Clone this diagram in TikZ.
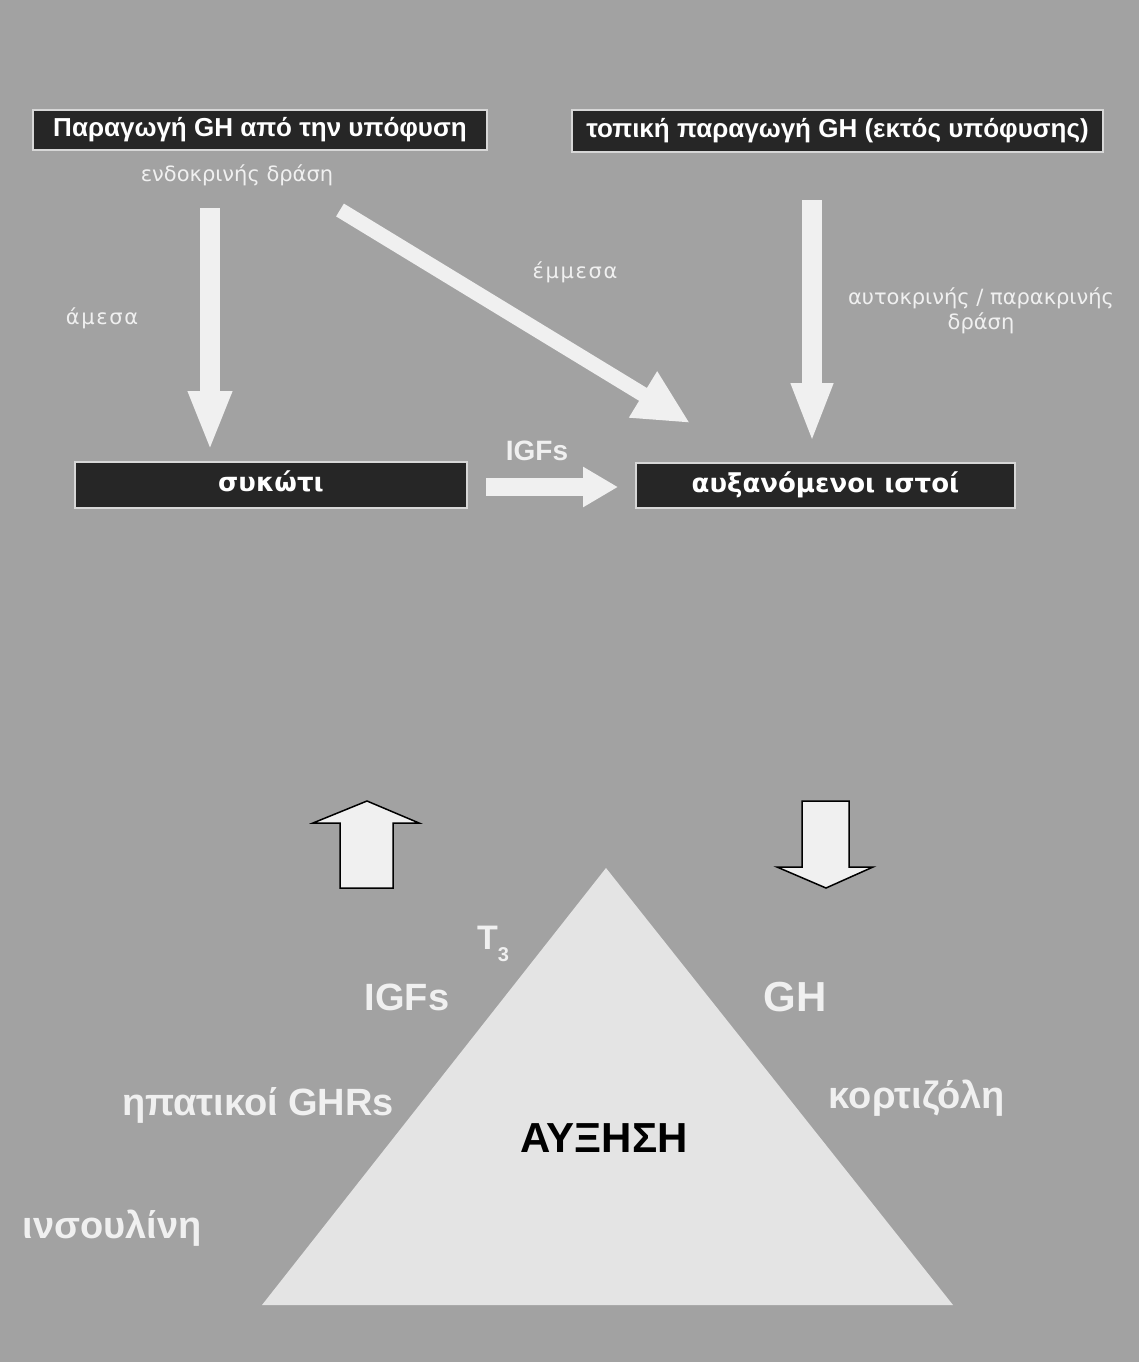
\documentclass[tikz,border=0pt]{standalone}
\usepackage{fontspec}
\usepackage{graphicx}
\setmainfont{Liberation Sans}
\newfontfamily\wideface{DejaVu Sans}
\usetikzlibrary{arrows.meta}
\definecolor{bg}{RGB}{162,162,162}
\definecolor{boxfill}{RGB}{38,38,38}
\definecolor{boxline}{RGB}{215,215,215}
\definecolor{pale}{RGB}{240,240,240}
\definecolor{tri}{RGB}{228,228,228}
\begin{document}
\begin{tikzpicture}[x=1pt,y=-1pt,
  darkbox/.style={fill=boxfill, draw=boxline, line width=1.2pt, text=white,
    font=\bfseries\fontsize{26}{30}\selectfont, inner sep=0pt,
    text height=19pt, text depth=6pt},
  widebox/.style={darkbox, font=\wideface\bfseries\fontsize{26}{30}\selectfont},
  smalllabel/.style={text=pale, font=\wideface\fontsize{21}{27}\selectfont, inner sep=1pt, align=center},
  spacedlabel/.style={smalllabel, font=\wideface\fontsize{21}{27}\selectfont\addfontfeature{LetterSpace=8}},
  biglabel/.style={text=pale, font=\bfseries\fontsize{38}{42}\selectfont, inner sep=1pt},
  flowarrow/.style={draw=pale, line width=#1},
  blockarrow/.style={fill=pale, draw=black, line width=1.5pt, line join=miter}
]
\useasboundingbox (0,0) rectangle (1139,1362);
\fill[bg] (0,0) rectangle (1139,1362);

% boxes
\node[darkbox, minimum width=454pt, minimum height=40pt] (pit) at (260,130) {Παραγωγή GH από την υπόφυση};
\node[darkbox, minimum width=531pt, minimum height=42pt] (local) at (837.5,131) {τοπική παραγωγή GH (εκτός υπόφυσης)};
\node[widebox, minimum width=392pt, minimum height=46pt] (liver) at (271,485) {συκώτι};
\node[widebox, minimum width=379pt, minimum height=45pt] (tissue) at (825.5,485.5) {αυξανόμενοι ιστοί};

% small labels
\node[smalllabel] (endo) at (237,175) {ενδοκρινής δράση};
\node[spacedlabel] (amesa) at (102,318) {άμεσα};
\node[spacedlabel] (emmesa) at (575,272) {έμμεσα};
\node[smalllabel] (auto) at (981,311) {αυτοκρινής / παρακρινής\\[-2pt]δράση};
\node[text=pale, font=\bfseries\fontsize{28}{30}\selectfont, inner sep=1pt] (igftop) at (537,451) {IGFs};

% connector end points
\coordinate (a1s) at (210,208);
\coordinate (a1e) at (210,451);
\coordinate (a2s) at (340,210);
\coordinate (a2e) at (690,423);
\coordinate (a3s) at (812,200);
\coordinate (a3e) at (812,443);
\coordinate (a4s) at (486,487);
\coordinate (a4e) at (618,487);

\draw[flowarrow=20pt, -{Triangle[width=40pt,length=60pt]}] (a1s) -- (a1e);
\draw[flowarrow=15pt, -{Triangle[width=50pt,length=55pt]}] (a2s) -- (a2e);
\draw[flowarrow=20pt, -{Triangle[width=38pt,length=60pt]}] (a3s) -- (a3e);
\draw[flowarrow=18pt, -{Triangle[width=38pt,length=35pt]}] (a4s) -- (a4e);

% triangle
\fill[tri] (606,868) -- (953,1305) -- (262,1305) -- cycle;
\node[text=black, font=\bfseries\fontsize{42}{46}\selectfont, inner sep=0pt] (growth) at (604,1138) {ΑΥΞΗΣΗ};

% block arrows
\draw[blockarrow] (367,801) -- (419,823) -- (393,823) -- (393,888) -- (340,888) -- (340,823) -- (313,823) -- cycle;
\draw[blockarrow] (802,801) -- (849,801) -- (849,867) -- (873,867) -- (826,888) -- (777,867) -- (802,867) -- cycle;

% big labels
\node[biglabel, font=\bfseries\fontsize{34}{38}\selectfont] (t3) at (493,944) {T\raisebox{-0.35em}{\fontsize{20}{20}\selectfont 3}};
\node[biglabel] (igf) at (407,997) {IGFs};
\node[biglabel, font=\bfseries\fontsize{42}{46}\selectfont] (gh) at (795,997) {GH};
\node[biglabel] (ghr) at (258,1105) {ηπατικοί GHRs};
\node[biglabel] (cort) at (917,1098) {κορτιζόλη};
\node[biglabel] (ins) at (112,1228) {ινσουλίνη};
\end{tikzpicture}
\end{document}
